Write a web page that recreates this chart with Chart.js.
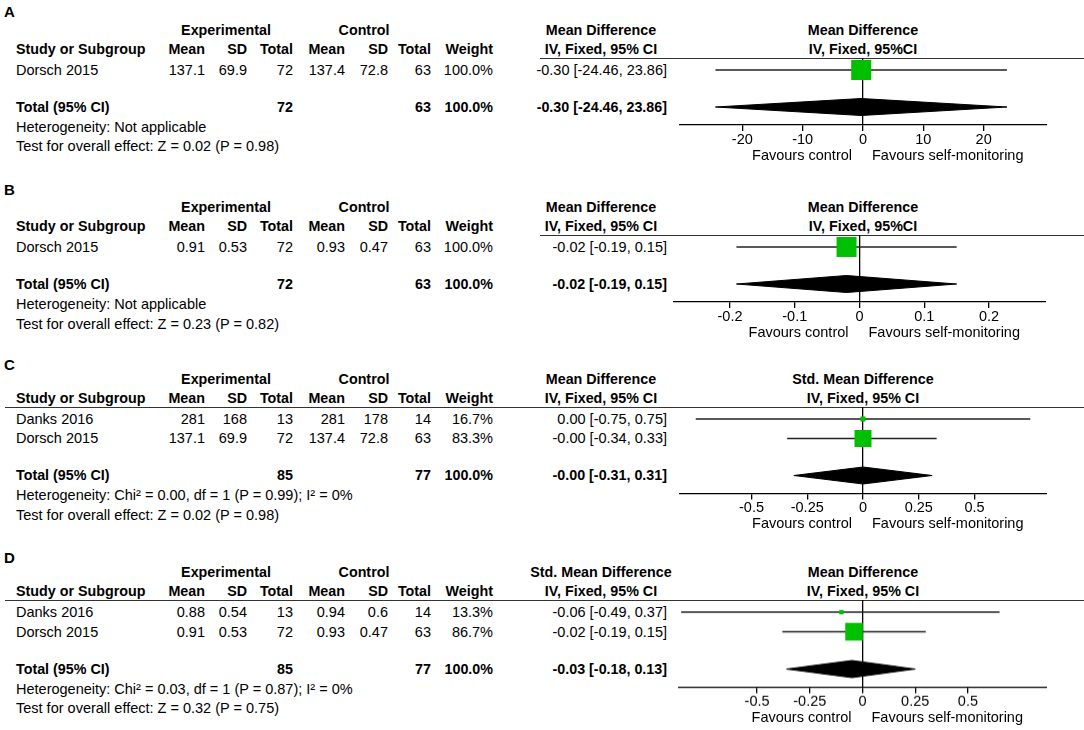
<!DOCTYPE html>
<html>
<head>
<meta charset="utf-8">
<script src="https://cdn.jsdelivr.net/npm/chart.js@4.4.1/dist/chart.umd.min.js"></script>
<style>
body{margin:0;background:#fff;width:1084px;height:730px;overflow:hidden;position:relative;
  font-family:"Liberation Sans",Arial,sans-serif;font-size:14.5px;color:#000}
.t{position:absolute;white-space:nowrap;line-height:16px}
.b{font-weight:bold;font-size:14.3px}
.tag{font-size:15px;font-weight:bold}
.hl{position:absolute;height:0;border-top:1.3px solid #333}
.box{position:absolute}
</style>
</head>
<body>
<script>
// ---- A: mean difference, one study
var studyA = ['Dorsch 2015']
var expA = [['137.1', '69.9', '72']]
var ctlA = [['137.4', '72.8', '63']]
var weightA = [100.0]
var ciA = ['-0.30 [-24.46, 23.86]']
var midA = [-0.30], loA = [-24.46], hiA = [23.86]
var totalA = [-0.30, -24.46, 23.86]
var totalCiA = '-0.30 [-24.46, 23.86]'
var totalNA = [72, 63]
var ticksA = [-20, -10, 0, 10, 20]
var notesA = ['Heterogeneity: Not applicable', 'Test for overall effect: Z = 0.02 (P = 0.98)']

// ---- B
var studyB = ['Dorsch 2015']
var expB = [['0.91', '0.53', '72']]
var ctlB = [['0.93', '0.47', '63']]
var weightB = [100.0]
var ciB = ['-0.02 [-0.19, 0.15]']
var midB = [-0.02], loB = [-0.19], hiB = [0.15]
var totalB = [-0.02, -0.19, 0.15]
var totalCiB = '-0.02 [-0.19, 0.15]'
var totalNB = [72, 63]
var ticksB = [-0.2, -0.1, 0, 0.1, 0.2]
var notesB = ['Heterogeneity: Not applicable', 'Test for overall effect: Z = 0.23 (P = 0.82)']

// ---- C
var studyC = ['Danks 2016', 'Dorsch 2015']
var expC = [['281', '168', '13'], ['137.1', '69.9', '72']]
var ctlC = [['281', '178', '14'], ['137.4', '72.8', '63']]
var weightC = [16.7, 83.3]
var ciC = ['0.00 [-0.75, 0.75]', '-0.00 [-0.34, 0.33]']
var midC = [0.00, -0.00], loC = [-0.75, -0.34], hiC = [0.75, 0.33]
var totalC = [-0.00, -0.31, 0.31]
var totalCiC = '-0.00 [-0.31, 0.31]'
var totalNC = [85, 77]
var ticksC = [-0.5, -0.25, 0, 0.25, 0.5]
var notesC = ['Heterogeneity: Chi\u00b2 = 0.00, df = 1 (P = 0.99); I\u00b2 = 0%', 'Test for overall effect: Z = 0.02 (P = 0.98)']

// ---- D
var studyD = ['Danks 2016', 'Dorsch 2015']
var expD = [['0.88', '0.54', '13'], ['0.91', '0.53', '72']]
var ctlD = [['0.94', '0.6', '14'], ['0.93', '0.47', '63']]
var weightD = [13.3, 86.7]
var ciD = ['-0.06 [-0.49, 0.37]', '-0.02 [-0.19, 0.15]']
// the published plot does not sit on its own labels here, these are read off the drawing
var midD = [-0.10, -0.04], loD = [-0.86, -0.38], hiD = [0.65, 0.30]
var totalD = [-0.05, -0.36, 0.25]
var totalCiD = '-0.03 [-0.18, 0.13]'
var totalND = [85, 77]
var ticksD = [-0.5, -0.25, 0, 0.25, 0.5]
var notesD = ['Heterogeneity: Chi\u00b2 = 0.03, df = 1 (P = 0.87); I\u00b2 = 0%', 'Test for overall effect: Z = 0.32 (P = 0.75)']

var panels = [
  {tag: 'A', tagY: 12, top: 57.7, lineFrom: 540, study: studyA, exp: expA, ctl: ctlA, weight: weightA, ci: ciA,
   mid: midA, lo: loA, hi: hiA, total: totalA, totalCi: totalCiA, totalN: totalNA, ticks: ticksA, notes: notesA,
   colHead: 'Mean Difference', plotHead: 'Mean Difference', plotSub: 'IV, Fixed, 95%CI', xmin: -30.5, xmax: 30.5, left: 679, right: 1047},
  {tag: 'B', tagY: 190, top: 235, lineFrom: 540, study: studyB, exp: expB, ctl: ctlB, weight: weightB, ci: ciB,
   mid: midB, lo: loB, hi: hiB, total: totalB, totalCi: totalCiB, totalN: totalNB, ticks: ticksB, notes: notesB,
   colHead: 'Mean Difference', plotHead: 'Mean Difference', plotSub: 'IV, Fixed, 95%CI', xmin: -0.288, xmax: 0.288, left: 673, right: 1046},
  {tag: 'C', tagY: 365, top: 406.5, lineFrom: 5, study: studyC, exp: expC, ctl: ctlC, weight: weightC, ci: ciC,
   mid: midC, lo: loC, hi: hiC, total: totalC, totalCi: totalCiC, totalN: totalNC, ticks: ticksC, notes: notesC,
   colHead: 'Mean Difference', plotHead: 'Std. Mean Difference', plotSub: 'IV, Fixed, 95% CI', xmin: -0.825, xmax: 0.825, left: 679, right: 1047},
  {tag: 'D', tagY: 558, top: 600, lineFrom: 5, study: studyD, exp: expD, ctl: ctlD, weight: weightD, ci: ciD,
   mid: midD, lo: loD, hi: hiD, total: totalD, totalCi: totalCiD, totalN: totalND, ticks: ticksD, notes: notesD,
   colHead: 'Std. Mean Difference', plotHead: 'Mean Difference', plotSub: 'IV, Fixed, 95% CI', xmin: -0.875, xmax: 0.875, left: 678, right: 1047}
]

var colX = [205, 247, 293, 345, 388, 431]
var colNames = ['Mean', 'SD', 'Total', 'Mean', 'SD', 'Total']
var ROW = 19.5, AXIS_H = 44

Chart.defaults.font.family = '"Liberation Sans", Arial, sans-serif'
Chart.defaults.font.size = 14.5
Chart.defaults.color = '#000'

function txt(s, x, y, align, cls) {
  var d = document.createElement('div')
  d.className = 't' + (cls ? ' ' + cls : '')
  d.textContent = s
  if (align == 'right') { d.style.left = (x - 400) + 'px'; d.style.width = '400px'; d.style.textAlign = 'right' }
  else if (align == 'center') { d.style.left = (x - 200) + 'px'; d.style.width = '400px'; d.style.textAlign = 'center' }
  else d.style.left = x + 'px'
  d.style.top = (y - 8) + 'px'
  document.body.appendChild(d)
  return d
}

function drawPanel(p) {
  var n = p.study.length
  var top = p.top
  var totY = top + 12 + (n - 1) * ROW + 37

  txt(p.tag, 4, p.tagY, 'left', 'tag')
  txt('Experimental', 226, top - 28, 'center', 'b')
  txt('Control', 364, top - 28, 'center', 'b')
  txt(p.colHead, 601, top - 28, 'center', 'b')
  txt('IV, Fixed, 95% CI', 601, top - 9, 'center', 'b')
  txt(p.plotHead, 863, top - 28, 'center', 'b')
  txt(p.plotSub, 863, top - 9, 'center', 'b')
  txt('Study or Subgroup', 16, top - 9, 'left', 'b')
  colNames.forEach(function (c, k) { txt(c, colX[k], top - 9, 'right', 'b') })
  txt('Weight', 493, top - 9, 'right', 'b')

  var hl = document.createElement('div')
  hl.className = 'hl'
  hl.style.left = p.lineFrom + 'px'
  hl.style.width = (1084 - p.lineFrom) + 'px'
  hl.style.top = top + 'px'
  document.body.appendChild(hl)

  for (var i = 0; i < n; i++) {
    var y = top + 12 + i * ROW
    txt(p.study[i], 16, y, 'left')
    var cells = p.exp[i].concat(p.ctl[i])
    cells.forEach(function (c, k) { txt(c, colX[k], y, 'right') })
    txt(p.weight[i].toFixed(1) + '%', 493, y, 'right')
    txt(p.ci[i], 667, y, 'right')
  }
  txt('Total (95% CI)', 16, totY, 'left', 'b')
  txt(String(p.totalN[0]), colX[2], totY, 'right', 'b')
  txt(String(p.totalN[1]), colX[5], totY, 'right', 'b')
  txt('100.0%', 493, totY, 'right', 'b')
  txt(p.totalCi, 667, totY, 'right', 'b')
  txt(p.notes[0], 16, totY + 20, 'left')
  txt(p.notes[1], 16, totY + 39.5, 'left')

  // plot
  var areaH = totY + 18 - top
  var yMin = -12 / ROW
  var totIdx = (n - 1) + 37 / ROW
  var yMax = totIdx + 18 / ROW
  var box = document.createElement('div')
  box.className = 'box'
  box.style.left = p.left + 'px'
  box.style.top = top + 'px'
  box.style.width = (p.right - p.left) + 'px'
  box.style.height = (areaH + AXIS_H) + 'px'
  var cv = document.createElement('canvas')
  box.appendChild(cv)
  document.body.appendChild(box)

  var datasets = []
  var squares = []
  for (var i = 0; i < n; i++) {
    datasets.push({
      data: [{x: p.lo[i], y: i}, {x: p.hi[i], y: i}],
      borderColor: '#222', borderWidth: 1.3, pointRadius: 0, order: 2, clip: false
    })
    var side = 2 + 18 * p.weight[i] / 100
    squares.push({x: p.mid[i], y: i, r: side / Math.SQRT2})
  }
  datasets.push({
    data: squares.map(function (s) { return {x: s.x, y: s.y} }),
    showLine: false, pointStyle: 'rect', borderWidth: 0, clip: false,
    pointRadius: squares.map(function (s) { return s.r }),
    pointBackgroundColor: '#00c000', pointBorderWidth: 0, order: 0
  })
  var h = 8.5 / ROW
  datasets.push({
    data: [{x: p.total[1], y: totIdx}, {x: p.total[0], y: totIdx - h}, {x: p.total[2], y: totIdx},
           {x: p.total[0], y: totIdx + h}, {x: p.total[1], y: totIdx}],
    borderColor: '#000', backgroundColor: '#000', borderWidth: 1, pointRadius: 0, fill: 'shape', order: 1, clip: false
  })

  var chart = new Chart(cv, {
    type: 'line',
    data: {datasets: datasets},
    options: {
      responsive: true, maintainAspectRatio: false, animation: false, events: [],
      layout: {padding: 0, autoPadding: false},
      plugins: {legend: {display: false}, tooltip: {enabled: false}},
      elements: {line: {tension: 0}},
      scales: {
        x: {
          type: 'linear', min: p.xmin, max: p.xmax,
          afterBuildTicks: function (sc) { sc.ticks = p.ticks.map(function (v) { return {value: v} }) },
          afterFit: function (sc) { sc.height = AXIS_H },
          border: {display: true, color: '#000', width: 1.3},
          grid: {
            drawOnChartArea: true, tickLength: 6, tickColor: '#000', tickWidth: 1.3,
            color: function (c) { return c.tick && c.tick.value === 0 ? '#000' : 'rgba(0,0,0,0)' },
            lineWidth: 1.3
          },
          ticks: {padding: 0, color: '#000', maxRotation: 0, autoSkip: false,
                  callback: function (v) { return String(v) }}
        },
        y: {type: 'linear', display: false, reverse: true, min: yMin, max: yMax}
      }
    }
  })

  var zx = p.left + chart.scales.x.getPixelForValue(0)
  var fy = top + areaH + 30
  txt('Favours control', zx - 11, fy, 'right')
  txt('Favours self-monitoring', zx + 9, fy, 'left')
}

panels.forEach(drawPanel)
</script>
</body>
</html>
